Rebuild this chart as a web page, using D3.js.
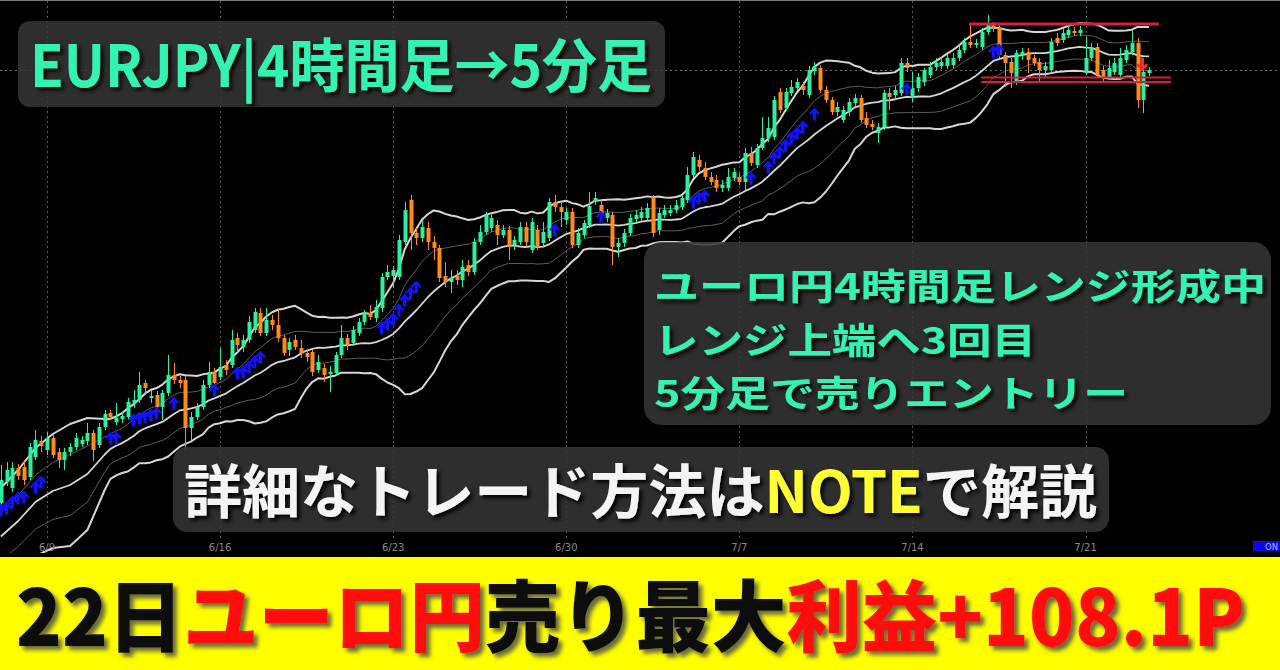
<!DOCTYPE html>
<html><head><meta charset="utf-8">
<script src="https://cdn.jsdelivr.net/npm/d3@7"></script>
<style>html,body{margin:0;padding:0;background:#000;overflow:hidden}svg{display:block}</style>
</head><body>
<svg id="c" width="1280" height="670"></svg>
<script>
// ---------- DATA (EURJPY 4H) ----------
const openP = [163.44,163.86,163.74,164.14,164.16,163.96,164.36,164.68,164.50,164.74,
164.46,164.30,164.46,164.56,164.62,164.68,164.84,164.60,164.96,165.24,
165.06,165.12,165.16,165.44,165.50,165.84,165.54,165.60,165.36,165.64,
166.00,165.90,165.90,164.94,165.16,165.36,165.80,166.06,165.96,166.20,
166.20,166.74,166.56,166.70,166.90,167.24,166.84,167.10,167.00,166.74,
166.50,166.70,166.54,166.44,166.46,166.10,166.14,166.02,166.04,166.40,
166.74,166.64,166.84,167.06,167.24,167.14,167.34,167.96,167.98,167.96,
168.66,169.50,168.84,168.74,168.94,168.66,168.54,167.98,167.86,167.98,
167.90,168.20,168.06,168.66,168.86,168.94,169.00,168.80,168.90,168.60,
168.66,168.96,168.50,168.90,168.64,168.74,169.46,169.36,169.10,169.26,
168.60,168.80,169.00,169.46,169.40,169.14,169.20,168.56,168.64,168.84,
169.12,169.14,169.14,169.56,168.90,169.20,169.24,169.30,169.36,169.50,
170.00,170.30,170.14,169.96,169.90,169.74,169.74,169.94,169.96,169.86,
170.44,170.20,170.54,170.74,170.76,171.66,171.34,171.64,171.74,171.78,
171.60,172.08,172.14,171.70,171.50,171.26,171.10,171.26,171.44,171.54,
171.14,171.02,170.84,170.96,171.64,171.60,171.64,172.24,171.54,171.74,
171.86,172.00,172.16,172.18,172.18,172.20,172.34,172.50,172.66,172.60,
172.56,172.86,173.00,172.94,172.40,172.26,171.86,172.40,172.46,172.34,
172.26,172.10,172.10,172.74,172.70,172.80,172.88,172.84,172.06,172.34,
172.56,172.10,171.96,172.06,172.00,172.30,172.46,172.64,171.50,172.04];
const highP = [164.20,164.26,164.26,164.22,164.30,164.64,164.90,164.78,164.86,164.82,
164.54,164.54,164.64,164.84,164.78,165.04,164.90,165.04,165.30,165.30,
165.44,165.26,165.54,165.70,166.06,165.90,165.70,165.68,165.70,166.40,
166.24,165.98,165.98,165.26,165.44,165.90,166.26,166.14,166.54,166.30,
166.90,166.84,166.80,167.18,167.34,167.34,167.34,167.20,167.34,166.80,
166.74,166.80,166.70,166.50,166.50,166.40,166.22,166.18,166.46,167.00,
166.82,166.98,167.14,167.30,167.40,167.50,168.04,168.20,168.18,168.80,
169.46,169.60,168.94,169.10,169.06,168.78,168.60,168.26,168.10,168.10,
168.30,168.30,168.74,169.00,169.26,169.24,169.10,169.00,168.98,168.78,
169.06,169.06,169.14,169.00,169.06,169.54,169.60,169.44,169.34,169.34,
168.94,169.10,169.66,169.66,169.50,169.32,169.26,168.74,168.92,169.22,
169.30,169.36,169.44,169.60,169.34,169.40,169.40,169.50,169.60,170.16,
170.46,170.40,170.26,170.06,170.00,169.90,170.14,170.14,170.04,170.54,
170.56,170.62,171.16,171.16,171.58,171.74,171.74,171.90,171.94,171.86,
172.18,172.26,172.20,171.78,171.56,171.46,171.38,171.54,171.62,171.60,
171.26,171.10,171.04,171.70,171.74,171.78,172.34,172.34,172.06,172.04,
172.14,172.26,172.34,172.36,172.42,172.44,172.60,172.74,173.00,172.72,
172.94,173.20,173.06,173.00,172.46,172.34,172.50,172.54,172.54,172.40,
172.34,172.26,172.74,172.84,172.94,173.02,172.96,172.98,172.76,172.64,
172.64,172.18,172.30,172.34,172.54,172.60,172.90,172.74,172.14,172.16];
const lowP = [163.34,163.78,163.66,163.90,163.80,163.90,164.30,164.46,164.40,164.34,
164.14,164.10,164.38,164.50,164.56,164.60,164.28,164.54,164.90,165.10,
165.00,165.04,165.10,165.34,165.44,165.60,165.44,165.30,165.10,165.58,
165.82,165.74,164.50,164.70,165.10,165.30,165.74,165.78,165.90,166.00,
166.14,166.46,166.46,166.64,166.84,166.78,166.78,166.90,166.66,166.38,
166.38,166.50,166.34,166.26,165.98,166.04,165.86,165.66,165.98,166.34,
166.50,166.58,166.78,167.00,167.10,167.06,167.26,167.90,167.74,167.90,
168.60,168.50,168.60,168.66,168.50,168.30,167.86,167.76,167.64,167.80,
167.76,167.98,168.00,168.60,168.80,168.86,168.60,168.74,168.30,168.50,
168.60,168.54,168.44,168.50,168.58,168.68,169.26,168.96,169.00,168.54,
168.54,168.74,168.94,169.40,169.16,169.06,168.20,168.36,168.56,168.78,
169.02,169.06,169.08,168.76,168.80,169.14,169.18,169.24,169.30,169.44,
169.94,170.08,169.90,169.80,169.66,169.66,169.68,169.88,169.80,169.70,
170.18,170.14,170.50,170.66,170.70,171.24,171.28,171.58,171.68,171.60,
171.54,172.00,171.64,171.44,171.20,171.18,171.04,171.18,171.36,171.04,
170.94,170.90,170.64,170.90,171.30,171.50,171.58,172.06,171.46,171.66,
171.78,171.94,172.10,172.12,172.12,172.14,172.28,172.44,172.54,172.54,
172.50,172.80,172.86,172.34,171.76,171.74,171.80,172.30,172.04,172.18,
171.84,171.94,172.04,172.58,172.64,172.74,172.78,172.78,172.00,172.28,
171.94,171.84,171.90,172.00,171.94,172.24,172.40,171.34,171.24,171.98];
const closeP = [163.90,164.10,164.14,163.98,163.90,164.56,164.70,164.58,164.74,164.40,
164.30,164.46,164.56,164.74,164.70,164.84,164.50,164.96,165.22,165.16,
165.14,165.18,165.46,165.50,165.80,165.74,165.58,165.36,165.64,166.00,
165.90,165.84,164.94,165.16,165.36,165.80,166.06,165.84,166.16,166.10,
166.70,166.60,166.70,167.06,167.26,166.84,167.10,167.00,166.74,166.44,
166.66,166.56,166.44,166.36,166.06,166.26,166.00,166.06,166.40,166.74,
166.60,166.90,167.06,167.24,167.16,167.36,167.96,168.06,168.10,168.70,
169.30,168.84,168.74,168.96,168.66,168.54,167.94,167.86,167.94,167.90,
168.16,168.06,168.66,168.86,169.20,169.14,168.80,168.90,168.56,168.70,
168.96,168.66,169.06,168.56,168.86,169.46,169.36,169.26,169.26,168.60,
168.84,169.04,169.38,169.54,169.24,169.24,168.56,168.64,168.84,169.14,
169.20,169.26,169.34,168.84,169.24,169.30,169.30,169.40,169.54,170.00,
170.36,170.16,169.96,169.86,169.74,169.80,169.96,170.06,169.86,170.44,
170.24,170.54,170.74,170.94,171.50,171.30,171.66,171.76,171.86,171.70,
172.10,172.18,171.70,171.50,171.26,171.36,171.30,171.46,171.54,171.10,
171.00,170.96,170.96,171.64,171.56,171.70,172.24,172.14,171.74,171.96,
172.10,172.16,172.24,172.26,172.34,172.34,172.50,172.66,172.60,172.64,
172.86,173.00,172.94,172.40,172.24,172.04,172.44,172.46,172.30,172.24,
172.10,172.18,172.66,172.64,172.84,172.90,172.84,172.90,172.34,172.56,
172.00,171.96,172.14,172.24,172.34,172.50,172.64,171.50,172.06,172.10];

// week-start tick labels (candle index of each Monday 00:00)
const tickIdx = [8, 38, 68, 98, 128, 158, 188];
const tickLabels = ["6/9", "6/16", "6/23", "6/30", "7/7", "7/14", "7/21"];

// band values at the left edge (before 20 closes are available)
const leadIdx = [0, 3, 6, 9, 12, 15, 18];
const leadUpper = [163.74, 164.10, 164.54, 164.82, 165.02, 165.14, 165.12];
const leadLower = [161.80, 162.06, 162.38, 162.54, 162.58, 162.90, 163.70];

// blue buy-signal arrows
const buyIdx = [0,1,2,3,4, 6,7, 19,20, 23,24,25,26,27, 30, 37, 41,42,43,44,45,
66,67,68,69,70,71,72, 96, 104, 120,121,122, 130, 133,134,135,136,137,138,139, 141, 157, 172,173];
const buyPrice = [163.30,163.34,163.46,163.54,163.56, 163.76,163.86, 164.74,164.74,
165.10,165.14,165.16,165.20,165.24, 165.44, 165.70, 166.04,166.06,166.16,166.26,166.36,
166.94,167.02,167.12,167.30,167.50,167.64,167.76, 168.90, 169.16, 169.46,169.54,169.58,
169.94, 170.16,170.34,170.46,170.60,170.74,170.84,170.96, 171.22, 171.72, 172.46,172.50];
// red sell-signal arrow
const sellIdx = [198];
const sellPrice = [172.22];

// range lines drawn on the chart (price level, start/end in candle units)
const rangeLevel = [173.02, 171.95, 171.86];
const rangeStart = [167.8, 169.9, 169.9];
const rangeEnd = [200.7, 202.8, 202.8];
const rangeWidth = [3, 2, 2];

// ---------- SCALES ----------
const n = closeP.length;
const svg = d3.select("#c");
const x = d3.scaleLinear().domain([0, n - 1]).range([0.84, 1149.07]);
const y = d3.scaleLinear().domain([162.5, 173.5]).range([550, 0]);

const defs = svg.append("defs");
defs.append("clipPath").attr("id", "plot").append("rect").attr("x", 0).attr("y", 0).attr("width", 1280).attr("height", 553);
const f1 = defs.append("filter").attr("id", "sh").attr("x", "-5%").attr("y", "-20%").attr("width", "115%").attr("height", "150%");
f1.append("feDropShadow").attr("dx", 3).attr("dy", 3).attr("stdDeviation", 2).attr("flood-color", "#000").attr("flood-opacity", 0.95);
const f2 = defs.append("filter").attr("id", "sh2").attr("x", "-5%").attr("y", "-20%").attr("width", "115%").attr("height", "150%");
f2.append("feDropShadow").attr("dx", 4).attr("dy", 4).attr("stdDeviation", 2.2).attr("flood-color", "#5c5c40").attr("flood-opacity", 0.9);

svg.append("rect").attr("width", 1280).attr("height", 670).attr("fill", "#000");
svg.append("line").attr("x1", 0).attr("x2", 1280).attr("y1", 0.5).attr("y2", 0.5).attr("stroke", "#7a7a7a");

// grid
const grid = svg.append("g");
grid.selectAll("line").data(tickIdx).join("line")
  .attr("x1", d => Math.round(x(d)) + 0.5).attr("x2", d => Math.round(x(d)) + 0.5)
  .attr("y1", 1).attr("y2", 541)
  .attr("stroke", "#5c5c5c").attr("stroke-dasharray", "2,3");
// bid line
svg.append("line").attr("x1", 0).attr("x2", 1280)
  .attr("y1", Math.round(y(closeP[n - 1])) + 0.5).attr("y2", Math.round(y(closeP[n - 1])) + 0.5)
  .attr("stroke", "#6a6a6a").attr("stroke-dasharray", "2,3");

const plot = svg.append("g").attr("clip-path", "url(#plot)");

// Bollinger-type bands (SMA 20, ±0.8σ / ±1.6σ)
const period = 20, kOuter = 1.6, kInner = 0.8;
const bandPts = [];
leadIdx.forEach((idx, j) => {
  bandPts.push({ i: idx, mid: (leadUpper[j] + leadLower[j]) / 2, sd: (leadUpper[j] - leadLower[j]) / (2 * kOuter) });
});
for (let i = period - 1; i < n; i++) {
  const w = closeP.slice(i - period + 1, i + 1);
  const m = d3.mean(w);
  const sd = Math.sqrt(d3.mean(w, v => (v - m) * (v - m)));
  bandPts.push({ i, mid: m, sd });
}
const bandDefs = [
  { k: kInner, c: "#5e5e5e", w: 1 }, { k: -kInner, c: "#5e5e5e", w: 1 },
  { k: kOuter, c: "#d6d6d6", w: 2 }, { k: 0, c: "#d6d6d6", w: 1.8 }, { k: -kOuter, c: "#d6d6d6", w: 2 }
];
bandDefs.forEach(b => {
  plot.append("path").datum(bandPts)
    .attr("fill", "none").attr("stroke", b.c).attr("stroke-width", b.w).attr("stroke-linejoin", "round")
    .attr("d", d3.line().x(d => x(d.i)).y(d => y(d.mid + b.k * d.sd)));
});

// candles
const candles = d3.range(n).map(i => ({ i, o: openP[i], h: highP[i], l: lowP[i], c: closeP[i] }));
const up = "#2cf09c", dn = "#ff8c1a";
const cg = plot.append("g");
cg.selectAll("line").data(candles).join("line")
  .attr("x1", d => Math.round(x(d.i)) + 0.5).attr("x2", d => Math.round(x(d.i)) + 0.5)
  .attr("y1", d => y(d.h)).attr("y2", d => y(d.l))
  .attr("stroke", d => d.c >= d.o ? up : dn).attr("stroke-width", 1);
cg.selectAll("rect").data(candles).join("rect")
  .attr("x", d => Math.round(x(d.i)) - 1.5).attr("width", 4)
  .attr("y", d => y(Math.max(d.o, d.c)))
  .attr("height", d => Math.max(1, Math.abs(y(d.o) - y(d.c))))
  .attr("fill", d => d.c >= d.o ? up : dn);

// arrows
const upArrow = "M0,-6.5 L5.5,-0.5 L3.6,1 L1.6,-1.2 L1.6,6.5 L-1.6,6.5 L-1.6,-1.2 L-3.6,1 L-5.5,-0.5 Z";
const dnArrow = "M0,7 L6,1 L3.9,-0.6 L1.7,1.6 L1.7,-6.5 L-1.7,-6.5 L-1.7,1.6 L-3.9,-0.6 L-6,1 Z";
plot.append("g").selectAll("path").data(buyIdx.map((d, j) => ({ i: d, p: buyPrice[j] }))).join("path")
  .attr("d", upArrow).attr("fill", "#1212ff")
  .attr("transform", d => `translate(${x(d.i)},${y(d.p)})`);
plot.append("g").selectAll("path").data(sellIdx.map((d, j) => ({ i: d, p: sellPrice[j] }))).join("path")
  .attr("d", dnArrow).attr("fill", "#ff2a2a")
  .attr("transform", d => `translate(${x(d.i) - 1},${y(d.p)})`);

// range lines
plot.append("g").selectAll("line").data(rangeLevel.map((p, j) => ({ p, s: rangeStart[j], e: rangeEnd[j], w: rangeWidth[j] }))).join("line")
  .attr("x1", d => x(d.s)).attr("x2", d => x(d.e))
  .attr("y1", d => y(d.p)).attr("y2", d => y(d.p))
  .attr("stroke", "#dc1c3e").attr("stroke-width", d => d.w);

// time labels
svg.append("g").selectAll("text").data(tickIdx).join("text")
  .attr("x", d => x(d)).attr("y", 551).attr("text-anchor", "middle")
  .attr("font-family", "'DejaVu Sans', sans-serif").attr("font-size", 10).attr("fill", "#8a8a8a")
  .text((d, j) => tickLabels[j]);
svg.append("rect").attr("x", 1253).attr("y", 541).attr("width", 27).attr("height", 10).attr("fill", "#0a0ae6");
svg.append("text").attr("x", 1278).attr("y", 550).attr("text-anchor", "end")
  .attr("font-family", "'DejaVu Sans', sans-serif").attr("font-size", 8.5).attr("fill", "#b8b8ff").text("ON");

// ---------- overlay captions ----------
const jp = "'Noto Sans CJK JP', 'Noto Sans', sans-serif";
const aqua = "#33f2b4";
function box(xp, yp, w, h, r) {
  svg.append("rect").attr("x", xp).attr("y", yp).attr("width", w).attr("height", h).attr("rx", r)
    .attr("fill", "#353535").attr("fill-opacity", 0.86);
}
box(18, 21, 647, 86, 12);
svg.append("text").attr("x", 30).attr("y", 87).attr("font-family", jp).attr("font-weight", 700)
  .attr("font-size", 58).attr("fill", aqua).attr("filter", "url(#sh)")
  .attr("textLength", 622).attr("lengthAdjust", "spacingAndGlyphs").text("EURJPY|4時間足→5分足");

box(644, 242, 627, 183, 18);
const capLines = ["ユーロ円4時間足レンジ形成中", "レンジ上端へ3回目", "5分足で売りエントリー"];
const capBase = [300, 354, 407], capLen = [612, 382, 474];
capLines.forEach((t, j) => {
  svg.append("text").attr("x", 654).attr("y", capBase[j]).attr("font-family", jp).attr("font-weight", 700)
    .attr("font-size", 36.5).attr("fill", aqua).attr("filter", "url(#sh)")
    .attr("textLength", capLen[j]).attr("lengthAdjust", "spacingAndGlyphs").text(t);
});

box(173, 447, 936, 85, 14);
const t3 = svg.append("text").attr("x", 184).attr("y", 513).attr("font-family", jp).attr("font-weight", 700)
  .attr("font-size", 58).attr("fill", "#f4f4f4").attr("filter", "url(#sh)")
  .attr("textLength", 913).attr("lengthAdjust", "spacingAndGlyphs");
t3.append("tspan").text("詳細なトレード方法は");
t3.append("tspan").attr("fill", "#ffff33").text("NOTE");
t3.append("tspan").text("で解説");

// ---------- bottom banner ----------
svg.append("rect").attr("x", 0).attr("y", 557).attr("width", 1280).attr("height", 113).attr("fill", "#ffff00");
const bt = svg.append("text").attr("x", 16).attr("y", 646).attr("font-family", jp).attr("font-weight", 900)
  .attr("font-size", 78).attr("filter", "url(#sh2)")
  .attr("textLength", 1229).attr("lengthAdjust", "spacingAndGlyphs");
[["22日", "#0a0a0a"], ["ユーロ円", "#ff1010"], ["売り最大", "#0a0a0a"], ["利益+108.1P", "#ff1010"]]
  .forEach(([t, c]) => bt.append("tspan").attr("fill", c).text(t));
</script>
</body></html>
